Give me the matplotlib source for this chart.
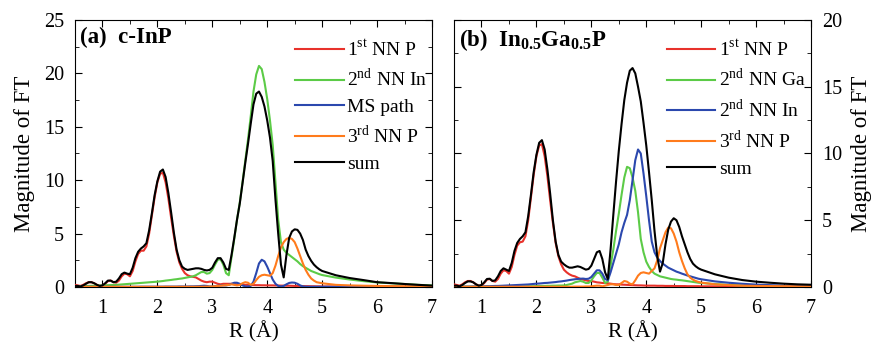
import matplotlib
matplotlib.use("Agg")
import matplotlib.pyplot as plt
from matplotlib.ticker import MultipleLocator

plt.rcParams["font.family"] = ["Liberation Serif", "DejaVu Serif"]
plt.rcParams["mathtext.fontset"] = "custom"
plt.rcParams["mathtext.rm"] = "Liberation Serif"
plt.rcParams["mathtext.bf"] = "Liberation Serif:bold"

# R grid (Angstrom), shared by both panels
r = [0.50, 0.55, 0.60, 0.65, 0.70, 0.75, 0.80, 0.85, 0.90, 0.95,
     1.00, 1.05, 1.10, 1.15, 1.20, 1.25, 1.30, 1.35, 1.40, 1.45,
     1.50, 1.55, 1.60, 1.65, 1.70, 1.75, 1.80, 1.85, 1.90, 1.95,
     2.00, 2.05, 2.10, 2.15, 2.20, 2.25, 2.30, 2.35, 2.40, 2.45,
     2.50, 2.55, 2.60, 2.65, 2.70, 2.75, 2.80, 2.85, 2.90, 2.95,
     3.00, 3.05, 3.10, 3.15, 3.20, 3.25, 3.30, 3.35, 3.40, 3.45,
     3.50, 3.55, 3.60, 3.65, 3.70, 3.75, 3.80, 3.85, 3.90, 3.95,
     4.00, 4.05, 4.10, 4.15, 4.20, 4.25, 4.30, 4.35, 4.40, 4.45,
     4.50, 4.55, 4.60, 4.65, 4.70, 4.75, 4.80, 4.85, 4.90, 4.95,
     5.00, 5.25, 5.50, 5.75, 6.00, 6.25, 6.50, 6.75, 7.00]

# ---- panel (a) c-InP ----
a_nn1_p = [0.2, 0.15, 0.1, 0.2, 0.35, 0.45, 0.45, 0.35, 0.2, 0.1,
           0.1, 0.3, 0.55, 0.6, 0.45, 0.4, 0.6, 1.0, 1.25, 1.2,
           1.0, 1.5, 2.4, 3.1, 3.4, 3.4, 3.8, 5.0, 6.7, 8.4,
           9.8, 10.6, 10.7, 9.8, 8.3, 6.5, 4.8, 3.3, 2.3, 1.7,
           1.3, 1.1, 1.0, 0.95, 0.9, 0.75, 0.6, 0.5, 0.45, 0.5,
           0.5, 0.4, 0.3, 0.25, 0.3, 0.3, 0.3, 0.3, 0.28, 0.25,
           0.22, 0.2, 0.2, 0.2, 0.18, 0.18, 0.17, 0.17, 0.16, 0.16,
           0.15, 0.15, 0.15, 0.14, 0.14, 0.13, 0.13, 0.12, 0.12, 0.11,
           0.1, 0.1, 0.09, 0.09, 0.08, 0.08, 0.07, 0.07, 0.06, 0.06,
           0.05, 0.05, 0.04, 0.04, 0.03, 0.03, 0.02, 0.02, 0.02]
a_nn2_in = [0.05, 0.06, 0.07, 0.08, 0.09, 0.1, 0.11, 0.12, 0.13, 0.14,
            0.15, 0.16, 0.17, 0.18, 0.19, 0.2, 0.22, 0.24, 0.26, 0.28,
            0.3, 0.32, 0.34, 0.36, 0.38, 0.4, 0.42, 0.44, 0.46, 0.48,
            0.5, 0.53, 0.56, 0.6, 0.63, 0.66, 0.7, 0.73, 0.77, 0.8,
            0.85, 0.9, 0.95, 1.0, 1.1, 1.25, 1.4, 1.4, 1.25, 1.3,
            1.6, 2.1, 2.55, 2.6, 2.1, 1.3, 1.1, 2.8, 4.5, 6.3,
            7.9, 9.8, 11.8, 13.8, 16.0, 18.3, 19.9, 20.7, 20.4, 19.2,
            17.6, 15.6, 13.3, 9.8, 6.3, 4.2, 3.5, 3.2, 3.0, 2.8,
            2.6, 2.4, 2.15, 1.95, 1.8, 1.65, 1.5, 1.4, 1.3, 1.2,
            1.12, 0.88, 0.7, 0.55, 0.43, 0.35, 0.28, 0.2, 0.15]
a_ms = [0.02, 0.02, 0.02, 0.02, 0.02, 0.02, 0.02, 0.02, 0.02, 0.02,
        0.02, 0.02, 0.02, 0.02, 0.02, 0.02, 0.02, 0.02, 0.02, 0.02,
        0.02, 0.02, 0.02, 0.02, 0.03, 0.03, 0.03, 0.03, 0.03, 0.03,
        0.03, 0.03, 0.03, 0.04, 0.04, 0.04, 0.04, 0.04, 0.05, 0.05,
        0.05, 0.05, 0.06, 0.06, 0.07, 0.08, 0.1, 0.12, 0.1, 0.05,
        0.05, 0.08, 0.12, 0.15, 0.15, 0.15, 0.2, 0.3, 0.4, 0.4,
        0.3, 0.15, 0.05, 0.05, 0.1, 0.5, 1.3, 2.2, 2.55, 2.4,
        1.9, 1.3, 0.7, 0.3, 0.1, 0.05, 0.1, 0.25, 0.38, 0.42,
        0.4, 0.3, 0.15, 0.05, 0.03, 0.02, 0.02, 0.02, 0.02, 0.02,
        0.02, 0.02, 0.02, 0.02, 0.02, 0.02, 0.02, 0.02, 0.02]
a_nn3_p = [0.02, 0.02, 0.02, 0.02, 0.02, 0.02, 0.02, 0.02, 0.02, 0.02,
           0.02, 0.02, 0.02, 0.02, 0.02, 0.02, 0.02, 0.02, 0.02, 0.02,
           0.02, 0.02, 0.02, 0.02, 0.02, 0.02, 0.02, 0.02, 0.02, 0.02,
           0.02, 0.02, 0.02, 0.02, 0.02, 0.02, 0.02, 0.02, 0.02, 0.02,
           0.02, 0.02, 0.02, 0.02, 0.02, 0.03, 0.03, 0.03, 0.04, 0.04,
           0.05, 0.07, 0.1, 0.12, 0.15, 0.17, 0.2, 0.25, 0.2, 0.15,
           0.2, 0.35, 0.45, 0.4, 0.2, 0.3, 0.65, 0.95, 1.1, 1.15,
           1.1, 1.05, 1.3, 2.0, 2.9, 3.7, 4.2, 4.5, 4.6, 4.5,
           4.2, 3.6, 2.9, 2.2, 1.6, 1.15, 0.8, 0.6, 0.45, 0.4,
           0.35, 0.2, 0.15, 0.12, 0.1, 0.08, 0.07, 0.06, 0.05]
a_sum = [0.1, 0.1, 0.05, 0.15, 0.3, 0.45, 0.45, 0.35, 0.2, 0.1,
         0.15, 0.35, 0.6, 0.6, 0.45, 0.5, 0.8, 1.2, 1.35, 1.25,
         1.2, 1.8, 2.7, 3.3, 3.6, 3.8, 4.1, 5.3, 6.9, 8.6,
         9.9, 10.8, 11.0, 10.3, 8.8, 7.0, 5.1, 3.5, 2.5, 1.9,
         1.7, 1.6, 1.65, 1.7, 1.75, 1.75, 1.7, 1.6, 1.55, 1.6,
         1.8, 2.3, 2.7, 2.7, 2.3, 1.7, 1.6, 3.0, 4.6, 6.3,
         7.8, 9.7, 11.6, 13.4, 15.3, 17.1, 18.1, 18.3, 17.8, 16.9,
         15.6, 14.0, 11.8, 8.2, 5.0, 2.1, 0.9, 3.0, 4.6, 5.2,
         5.4, 5.35, 5.0, 4.4, 3.5, 2.9, 2.45, 2.1, 1.85, 1.65,
         1.5, 1.1, 0.84, 0.65, 0.45, 0.37, 0.28, 0.2, 0.13]

# ---- panel (b) In0.5Ga0.5P ----
b_nn1_p = [0.2, 0.15, 0.1, 0.2, 0.35, 0.45, 0.45, 0.35, 0.2, 0.1,
           0.1, 0.3, 0.55, 0.6, 0.45, 0.4, 0.6, 1.0, 1.25, 1.2,
           1.0, 1.5, 2.4, 3.1, 3.35, 3.4, 3.8, 5.0, 6.7, 8.4,
           9.8, 10.6, 10.7, 9.8, 8.3, 6.5, 4.8, 3.3, 2.3, 1.7,
           1.3, 1.1, 0.95, 0.85, 0.8, 0.7, 0.6, 0.55, 0.5, 0.45,
           0.45, 0.4, 0.35, 0.33, 0.3, 0.3, 0.28, 0.25, 0.22, 0.2,
           0.2, 0.18, 0.17, 0.16, 0.15, 0.14, 0.13, 0.12, 0.12, 0.11,
           0.1, 0.1, 0.1, 0.1, 0.09, 0.09, 0.09, 0.08, 0.08, 0.08,
           0.08, 0.07, 0.07, 0.07, 0.07, 0.06, 0.06, 0.06, 0.06, 0.06,
           0.05, 0.05, 0.05, 0.04, 0.04, 0.04, 0.04, 0.03, 0.03]
b_nn2_ga = [0.02, 0.02, 0.02, 0.02, 0.02, 0.02, 0.02, 0.02, 0.02, 0.02,
            0.02, 0.02, 0.02, 0.02, 0.03, 0.03, 0.03, 0.03, 0.03, 0.03,
            0.03, 0.04, 0.04, 0.04, 0.05, 0.05, 0.05, 0.06, 0.06, 0.06,
            0.07, 0.07, 0.08, 0.08, 0.09, 0.09, 0.1, 0.1, 0.11, 0.11,
            0.12, 0.15, 0.2, 0.25, 0.35, 0.4, 0.45, 0.4, 0.3, 0.3,
            0.5, 0.8, 1.05, 1.05, 0.7, 0.3, 0.4, 1.6, 2.8, 4.2,
            5.5, 6.9, 8.2, 9.0, 8.9, 8.2, 7.2, 5.6, 3.6, 2.6,
            1.9, 1.5, 1.2, 1.0, 0.9, 0.8, 0.75, 0.7, 0.65, 0.6,
            0.57, 0.55, 0.52, 0.5, 0.47, 0.44, 0.41, 0.38, 0.35, 0.32,
            0.3, 0.22, 0.16, 0.12, 0.1, 0.08, 0.06, 0.05, 0.04]
b_nn2_in = [0.02, 0.02, 0.02, 0.03, 0.03, 0.03, 0.03, 0.04, 0.04, 0.04,
            0.05, 0.05, 0.06, 0.06, 0.07, 0.08, 0.08, 0.09, 0.1, 0.11,
            0.12, 0.13, 0.14, 0.15, 0.16, 0.17, 0.18, 0.19, 0.21, 0.23,
            0.25, 0.26, 0.28, 0.3, 0.31, 0.33, 0.35, 0.37, 0.4, 0.42,
            0.45, 0.48, 0.52, 0.55, 0.58, 0.6, 0.62, 0.63, 0.6, 0.62,
            0.75, 1.0, 1.25, 1.25, 1.0, 0.6, 0.5, 1.1, 1.8, 2.5,
            3.2, 4.1, 4.8, 5.4, 6.5, 8.0, 9.5, 10.3, 10.0, 8.5,
            6.8, 5.0, 3.4, 2.6, 2.2, 1.95, 1.75, 1.6, 1.45, 1.35,
            1.25, 1.15, 1.08, 1.0, 0.93, 0.86, 0.8, 0.74, 0.68, 0.62,
            0.58, 0.42, 0.32, 0.24, 0.18, 0.14, 0.1, 0.08, 0.06]
b_nn3_p = [0.02, 0.02, 0.02, 0.02, 0.02, 0.02, 0.02, 0.02, 0.02, 0.02,
           0.02, 0.02, 0.02, 0.02, 0.02, 0.02, 0.02, 0.02, 0.02, 0.02,
           0.02, 0.02, 0.02, 0.02, 0.02, 0.02, 0.02, 0.02, 0.02, 0.02,
           0.02, 0.02, 0.02, 0.02, 0.02, 0.02, 0.02, 0.02, 0.02, 0.02,
           0.02, 0.02, 0.02, 0.02, 0.03, 0.03, 0.03, 0.03, 0.04, 0.04,
           0.05, 0.08, 0.1, 0.1, 0.05, 0.1, 0.15, 0.2, 0.2, 0.15,
           0.15, 0.3, 0.45, 0.4, 0.25, 0.2, 0.5, 0.85, 1.05, 1.1,
           1.05, 1.0, 1.2, 1.4, 2.0, 2.9, 3.5, 4.1, 4.45, 4.4,
           4.0, 3.4, 2.6, 1.95, 1.4, 0.95, 0.7, 0.55, 0.45, 0.38,
           0.33, 0.2, 0.14, 0.1, 0.08, 0.07, 0.06, 0.05, 0.04]
b_sum = [0.1, 0.1, 0.05, 0.15, 0.3, 0.42, 0.42, 0.35, 0.2, 0.1,
         0.15, 0.35, 0.6, 0.62, 0.45, 0.5, 0.8, 1.2, 1.4, 1.3,
         1.2, 1.8, 2.7, 3.3, 3.6, 3.8, 4.1, 5.3, 6.9, 8.6,
         9.9, 10.8, 11.0, 10.3, 8.8, 7.0, 5.0, 3.4, 2.4, 1.9,
         1.7, 1.55, 1.45, 1.45, 1.5, 1.55, 1.5, 1.4, 1.3, 1.35,
         1.6, 2.1, 2.6, 2.7, 2.1, 1.1, 0.6, 2.8, 5.4, 7.9,
         10.2, 12.2, 14.0, 15.3, 16.2, 16.4, 16.0, 15.0, 13.9, 12.3,
         10.6, 8.6, 6.5, 4.2, 2.3, 1.15, 1.8, 3.2, 4.3, 4.9,
         5.15, 5.0, 4.5, 3.8, 3.2, 2.6, 2.1, 1.75, 1.55, 1.4,
         1.3, 0.95, 0.7, 0.52, 0.4, 0.32, 0.25, 0.2, 0.17]

RED, GREEN, BLUE, ORANGE, BLACK = "#e8322b", "#5ccb47", "#2b48ae", "#ff7b1c", "black"

fig = plt.figure(figsize=(8.75, 3.44), dpi=100)
axA = fig.add_axes([0.0857, 0.1657, 0.408, 0.7762])
axB = fig.add_axes([0.5189, 0.1657, 0.408, 0.7762])

series_a = [(a_nn1_p, RED, r"1$^{\mathrm{st}}$ NN P"),
            (a_nn2_in, GREEN, r"2$^{\mathrm{nd}}$ NN In"),
            (a_ms, BLUE, "MS path"),
            (a_nn3_p, ORANGE, r"3$^{\mathrm{rd}}$ NN P"),
            (a_sum, BLACK, "sum")]
series_b = [(b_nn1_p, RED, r"1$^{\mathrm{st}}$ NN P"),
            (b_nn2_ga, GREEN, r"2$^{\mathrm{nd}}$ NN Ga"),
            (b_nn2_in, BLUE, r"2$^{\mathrm{nd}}$ NN In"),
            (b_nn3_p, ORANGE, r"3$^{\mathrm{rd}}$ NN P"),
            (b_sum, BLACK, "sum")]

for ax, series, ymax, title, legx in [
        (axA, series_a, 25, "(a)  c-InP", 0.616),
        (axB, series_b, 20, r"(b)  In$_{\mathbf{0.5}}$Ga$_{\mathbf{0.5}}$P", 0.596)]:
    for y, c, lab in series:
        ax.plot(r, y, color=c, lw=1.5, label=lab, zorder=5 if c == BLACK else 3)
    ax.set_xlim(0.5, 7)
    ax.set_ylim(0, ymax)
    ax.xaxis.set_major_locator(MultipleLocator(1))
    ax.xaxis.set_minor_locator(MultipleLocator(0.5))
    ax.yaxis.set_major_locator(MultipleLocator(5))
    ax.yaxis.set_minor_locator(MultipleLocator(2.5))
    ax.tick_params(which="both", direction="in", top=True, right=True, left=True,
                   labelsize=14.5)
    ax.tick_params(axis="x", which="major", pad=9)
    ax.tick_params(axis="y", which="major", pad=8)
    ax.tick_params(which="major", length=5)
    ax.tick_params(which="minor", length=3)
    ax.set_xlabel("R (Å)", fontsize=15.5, labelpad=2)
    ax.set_ylabel("Magnitude of FT", fontsize=16.5, labelpad=6)
    ax.text(0.015, 0.975, title, transform=ax.transAxes, fontsize=16.5,
            fontweight="bold", va="top", ha="left")
    ax.legend(loc="upper left", bbox_to_anchor=(legx, 0.93), frameon=False,
              fontsize=14, handlelength=2.5, handletextpad=0.2,
              labelspacing=0.42, borderpad=0, borderaxespad=0)

axB.yaxis.tick_right()
axB.yaxis.set_label_position("right")
axB.tick_params(which="both", left=True, right=True, labelleft=False, labelright=True)

fig.savefig("out.png", dpi=100)
